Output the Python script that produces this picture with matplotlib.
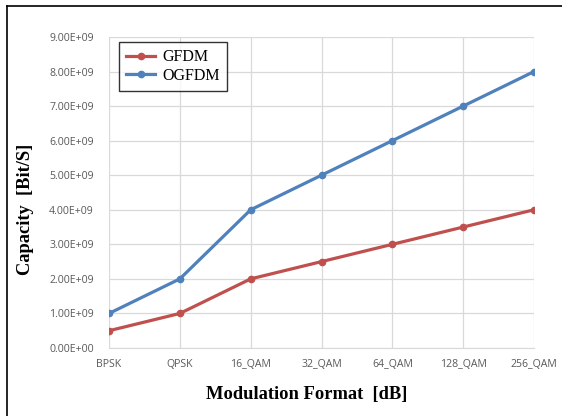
import matplotlib
matplotlib.use("Agg")
import matplotlib.pyplot as plt
from matplotlib.lines import Line2D
from matplotlib.ticker import MultipleLocator, FuncFormatter

categories = ["BPSK", "QPSK", "16_QAM", "32_QAM", "64_QAM", "128_QAM", "256_QAM"]
gfdm = [0.5e9, 1.0e9, 2.0e9, 2.5e9, 3.0e9, 3.5e9, 4.0e9]
ogfdm = [1.0e9, 2.0e9, 4.0e9, 5.0e9, 6.0e9, 7.0e9, 8.0e9]

fig = plt.figure(figsize=(5.62, 4.16), dpi=100)
ax = fig.add_axes([109 / 562, 1 - 348 / 416, (534 - 109) / 562, (348 - 37) / 416])

x = list(range(len(categories)))
ax.plot(x, gfdm, color="#C0504D", lw=2.3, marker="o", ms=4.5, label="GFDM", zorder=3)
ax.plot(x, ogfdm, color="#4F81BD", lw=2.3, marker="o", ms=4.5, label="OGFDM", zorder=3)

ax.set_xlim(0, len(categories) - 1)
ax.set_ylim(0, 9e9)
ax.set_xticks(x)
ax.set_xticklabels(categories)
ax.yaxis.set_major_locator(MultipleLocator(1e9))
ax.yaxis.set_major_formatter(FuncFormatter(lambda v, p: f"{v:.2E}"))

ax.grid(True, color="#D9D9D9", lw=0.9)
ax.set_axisbelow(True)
for s in ax.spines.values():
    s.set_visible(False)
ax.spines["bottom"].set_visible(True)
ax.spines["bottom"].set_color("#D9D9D9")
ax.tick_params(length=0, labelsize=7.6, labelcolor="#595959")
ax.tick_params(axis="y", pad=11)
ax.tick_params(axis="x", pad=8)
for lab in ax.get_xticklabels() + ax.get_yticklabels():
    lab.set_family("Open Sans")

leg = ax.legend(loc="upper left", bbox_to_anchor=(0.0235, 0.984), borderaxespad=0,
                frameon=True, fancybox=False,
                prop={"family": "Liberation Serif", "size": 11.5}, handlelength=1.8,
                borderpad=0.45, labelspacing=0.15, handletextpad=0.45)
leg.get_frame().set_edgecolor("black")
leg.get_frame().set_linewidth(1.0)

fig.text(307 / 562, 1 - 394 / 416, "Modulation Format  [dB]", ha="center", va="center",
         family="Liberation Serif", weight="bold", fontsize=13.3)
fig.text(26 / 562, 1 - 209 / 416, "Capacity  [Bit/S]", ha="center", va="center", rotation=90,
         family="Liberation Serif", weight="bold", fontsize=13.3)

# outer frame (top and left edges only)
fig.add_artist(Line2D([7 / 562, 1], [1 - 6 / 416, 1 - 6 / 416], color="black", lw=1.2, transform=fig.transFigure))
fig.add_artist(Line2D([7 / 562, 7 / 562], [0, 1 - 6 / 416], color="black", lw=1.2, transform=fig.transFigure))

fig.savefig("out.png", dpi=100)
